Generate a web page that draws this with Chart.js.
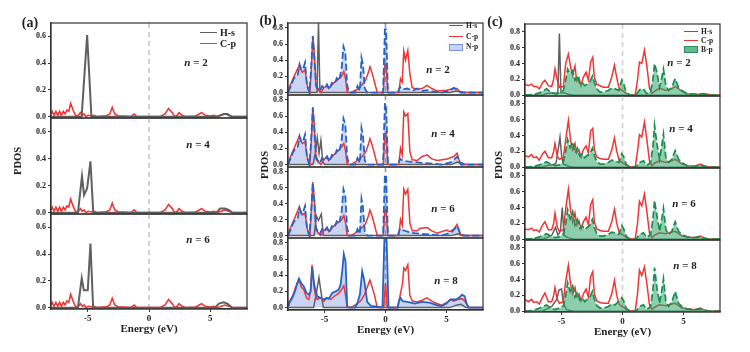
<!DOCTYPE html>
<html>
<head>
<meta charset="utf-8">
<script src="https://cdn.jsdelivr.net/npm/chart.js@4.4.0/dist/chart.umd.min.js"></script>
<style>
body { margin: 0; background: #fff; }
#fig { position: relative; width: 750px; height: 352px; overflow: hidden;
       font-family: "Liberation Serif", "Times New Roman", serif; font-weight: bold; color: #222; }
#fig canvas { position: absolute; }
.txt { position: absolute; white-space: nowrap; line-height: 1; transform: translate(-50%, -50%); }
.leg { position: absolute; white-space: nowrap; line-height: 1; }
</style>
</head>
<body>
<div id="fig"></div>
<script>
// tick labels
var xTicks = [-5, 0, 5];
var aTicksY = [0, 0.2, 0.4, 0.6];
var bTicksY = [0, 0.2, 0.4, 0.6, 0.8];
var cTicksY = [0, 0.2, 0.4, 0.6, 0.8];

// ---- panel (a): H-s / C-p, n = 2, 4, 6  ([energy eV, PDOS])
var aHs2 = [[-8,0],[-5.5,0],[-5.05,0.61],[-4.7,0],[5.5,0],[5.8,0.01],[6.1,0.02],[6.4,0.02],[6.7,0],[8,0]];
var aHs4 = [[-8,0],[-5.8,0],[-5.47,0.27],[-5.3,0.13],[-5.05,0.18],[-4.78,0.38],[-4.55,0],[5.5,0],[5.8,0.03],[6.2,0.03],[6.5,0.02],[6.8,0],[8,0]];
var aHs6 = [[-8,0],[-5.8,0],[-5.49,0.22],[-5.32,0.13],[-5.0,0.13],[-4.78,0.48],[-4.56,0],[5.4,0],[5.7,0.03],[6.1,0.04],[6.4,0.03],[6.8,0],[8,0]];
var aCp = [[-8,0.02],[-7.9,0.04],[-7.75,0.01],[-7.6,0.04],[-7.45,0.01],[-7.3,0.04],[-7.15,0.01],[-7.0,0.04],
    [-6.85,0.02],[-6.7,0.05],[-6.55,0.04],[-6.4,0.1],[-6.2,0.05],[-6.0,0.01],[-5.8,0.005],[-5.6,0.03],[-5.45,0.01],
    [-5.3,0.02],[-5.15,0],[-4.95,0.01],[-4.7,0.005],[-4.5,0.01],[-4.2,0],[-3.8,0.005],[-3.5,0.005],[-3.2,0.02],
    [-3.0,0.07],[-2.8,0.02],[-2.5,0.005],[-2.0,0.005],[-1.5,0],[-1.2,0.02],[-1.0,0],[0.9,0],[1.3,0.02],[1.6,0.06],
    [1.9,0.03],[2.1,0],[2.3,0.01],[2.45,0.03],[2.7,0.01],[3.0,0],[3.8,0.005],[4.1,0.02],[4.3,0.03],[4.6,0.01],
    [5.0,0.005],[5.3,0.01],[5.6,0],[5.9,0.01],[6.2,0.02],[6.5,0.01],[6.9,0],[8,0]];

// ---- panel (b): H-s / C-p / N-p, n = 2, 4, 6, 8
var bHs2 = [[-8,0],[-5.62,0],[-5.5,0.86],[-5.38,0],[5.3,0],[5.8,0.02],[6.2,0.01],[6.5,0],[8,0]];
var bCp2 = [[-8,0.02],[-7.85,0.08],[-7.5,0.2],[-7.1,0.33],[-6.83,0.25],[-6.6,0.28],[-6.4,0.07],[-6.2,0],[-6.07,0.35],
    [-5.96,0.7],[-5.82,0.44],[-5.7,0.07],[-5.5,0.03],[-5.3,0],[-5.06,0.06],[-4.8,0.08],[-4.65,0.05],[-4.24,0.12],
    [-3.83,0.17],[-3.6,0.2],[-3.42,0.26],[-3.28,0.17],[-3.14,0],[-2.9,0],[-2.6,0.02],[-2.32,0.04],[-1.91,0.1],
    [-1.64,0.15],[-1.4,0.25],[-1.28,0.32],[-1.09,0.24],[-0.9,0.13],[-0.68,0],[-0.19,0],[-0.05,0.35],[0.05,0.35],
    [0.19,0],[1.09,0],[1.23,0.17],[1.37,0.13],[1.5,0.51],[1.64,0.4],[1.83,0.52],[2.0,0.23],[2.19,0.06],[2.6,0.04],
    [3.0,0.05],[3.41,0.09],[3.8,0.05],[4.24,0.02],[5.05,0.03],[5.6,0.05],[5.87,0.05],[6.15,0],[8,0]];
var bNp2 = [[-8,0],[-7.85,0.05],[-7.6,0.15],[-7.4,0.2],[-7.2,0.22],[-7.05,0.35],[-6.9,0.28],[-6.75,0.3],[-6.6,0.37],
    [-6.45,0.1],[-6.25,0],[-6.1,0.3],[-5.97,0.7],[-5.85,0.45],[-5.7,0.1],[-5.55,0.05],[-5.4,0.02],[-5.2,0.08],
    [-5.0,0.05],[-4.8,0.1],[-4.6,0.04],[-4.4,0.12],[-4.2,0.1],[-4.0,0.18],[-3.8,0.15],[-3.6,0.3],[-3.45,0.57],
    [-3.3,0.5],[-3.15,0.1],[-3.0,0],[-2.5,0],[-2.3,0.08],[-2.1,0.02],[-1.97,0.43],[-1.85,0.35],[-1.7,0.05],[-1.5,0],
    [-0.2,0],[-0.05,0.78],[0.05,0.78],[0.2,0],[1.0,0],[1.2,0.07],[1.4,0.04],[1.8,0.05],[2.2,0.02],[2.6,0.05],
    [3.0,0.02],[3.4,0.03],[4.0,0.01],[4.6,0],[5.2,0.02],[5.6,0.06],[5.9,0.03],[6.2,0],[8,0]];
var bHs4 = [[-8,0],[-5.95,0],[-5.75,0.15],[-5.6,0.33],[-5.45,0.14],[-5.3,0.3],[-5.15,0.04],[-5.0,0],[5.4,0],[5.9,0.03],[6.3,0.02],[6.6,0],[8,0]];
var bCp4 = [[-8,0.02],[-7.85,0.08],[-7.5,0.2],[-7.1,0.34],[-6.83,0.26],[-6.6,0.28],[-6.4,0.07],[-6.2,0],[-6.07,0.35],
    [-5.96,0.71],[-5.82,0.44],[-5.7,0.07],[-5.5,0.03],[-5.3,0],[-5.06,0.06],[-4.8,0.1],[-4.65,0.05],[-4.24,0.12],
    [-3.83,0.18],[-3.6,0.22],[-3.42,0.26],[-3.28,0.17],[-3.14,0],[-2.9,0],[-2.6,0.02],[-2.32,0.05],[-1.91,0.1],
    [-1.64,0.15],[-1.4,0.25],[-1.28,0.32],[-1.09,0.24],[-0.9,0.13],[-0.68,0],[-0.19,0],[-0.05,0.38],[0.05,0.38],
    [0.19,0],[1.09,0],[1.23,0.2],[1.37,0.12],[1.5,0.65],[1.64,0.6],[1.83,0.63],[2.0,0.16],[2.19,0.06],[2.6,0.05],
    [3.0,0.1],[3.41,0.12],[3.8,0.07],[4.24,0.05],[5.05,0.07],[5.6,0.1],[5.87,0.14],[6.15,0],[8,0]];
var bNp4 = [[-8,0],[-7.85,0.05],[-7.6,0.15],[-7.4,0.2],[-7.2,0.22],[-7.05,0.35],[-6.9,0.28],[-6.75,0.3],[-6.6,0.37],
    [-6.45,0.1],[-6.25,0],[-6.1,0.3],[-5.97,0.7],[-5.85,0.45],[-5.7,0.1],[-5.55,0.05],[-5.4,0.02],[-5.2,0.08],
    [-5.0,0.05],[-4.8,0.1],[-4.6,0.04],[-4.4,0.12],[-4.2,0.1],[-4.0,0.18],[-3.8,0.15],[-3.6,0.3],[-3.45,0.57],
    [-3.3,0.5],[-3.15,0.1],[-3.0,0],[-2.5,0],[-2.3,0.08],[-2.1,0.02],[-1.97,0.45],[-1.85,0.36],[-1.7,0.05],[-1.5,0],
    [-0.2,0],[-0.05,0.75],[0.05,0.75],[0.2,0],[1.0,0],[1.2,0.07],[1.4,0.05],[1.8,0.04],[2.4,0.03],[3.0,0.02],
    [4.0,0.01],[4.6,0],[5.4,0.03],[5.9,0.1],[6.2,0],[8,0]];
var bHs6 = [[-8,0],[-5.85,0],[-5.68,0.25],[-5.5,0.19],[-5.27,0.27],[-5.1,0],[5.4,0],[5.9,0.02],[6.3,0.01],[6.6,0],[8,0]];
var bCp6 = [[-8,0.02],[-7.85,0.08],[-7.5,0.2],[-7.1,0.35],[-6.83,0.26],[-6.6,0.28],[-6.4,0.07],[-6.2,0],[-6.07,0.35],
    [-5.96,0.67],[-5.82,0.42],[-5.7,0.07],[-5.5,0.03],[-5.3,0],[-5.06,0.06],[-4.8,0.1],[-4.65,0.05],[-4.24,0.12],
    [-3.83,0.17],[-3.6,0.2],[-3.42,0.25],[-3.28,0.16],[-3.14,0],[-2.9,0],[-2.6,0.02],[-2.32,0.05],[-1.91,0.1],
    [-1.64,0.15],[-1.4,0.25],[-1.28,0.32],[-1.09,0.24],[-0.9,0.13],[-0.68,0],[-0.19,0],[-0.05,0.33],[0.05,0.33],
    [0.19,0],[1.09,0],[1.23,0.2],[1.37,0.13],[1.5,0.58],[1.64,0.52],[1.83,0.58],[2.0,0.16],[2.19,0.06],[2.6,0.06],
    [2.8,0.09],[3.41,0.1],[3.8,0.06],[4.24,0.03],[5.0,0.07],[5.3,0.05],[5.6,0.08],[5.87,0.14],[6.15,0],[8,0]];
var bNp6 = [[-8,0],[-7.85,0.05],[-7.6,0.15],[-7.4,0.2],[-7.2,0.22],[-7.05,0.35],[-6.9,0.28],[-6.75,0.3],[-6.6,0.37],
    [-6.45,0.1],[-6.25,0],[-6.1,0.3],[-5.97,0.66],[-5.85,0.45],[-5.7,0.1],[-5.55,0.05],[-5.4,0.02],[-5.2,0.08],
    [-5.0,0.05],[-4.8,0.1],[-4.6,0.04],[-4.4,0.12],[-4.2,0.1],[-4.0,0.18],[-3.8,0.15],[-3.6,0.3],[-3.45,0.58],
    [-3.3,0.5],[-3.15,0.1],[-3.0,0],[-2.5,0],[-2.3,0.08],[-2.1,0.02],[-1.97,0.46],[-1.85,0.36],[-1.7,0.05],[-1.5,0],
    [-0.2,0],[-0.05,0.76],[0.05,0.76],[0.2,0],[1.0,0],[1.2,0.09],[1.4,0.07],[1.8,0.05],[2.4,0.03],[3.0,0.02],
    [4.0,0.01],[4.6,0],[5.4,0.04],[5.9,0.12],[6.2,0],[8,0]];
var bHs8 = [[-8,0],[-5.9,0],[-5.65,0.2],[-5.46,0.37],[-5.3,0.2],[-5.1,0],[5.3,0],[5.8,0.03],[6.2,0.04],[6.6,0],[8,0]];
var bCp8 = [[-8,0.05],[-7.9,0.07],[-7.6,0.15],[-7.38,0.25],[-7.1,0.34],[-6.9,0.25],[-6.7,0.22],[-6.48,0.12],[-6.3,0.1],
    [-6.15,0.2],[-6.03,0.53],[-5.9,0.3],[-5.75,0.15],[-5.6,0.1],[-5.3,0.12],[-5.06,0.08],[-4.8,0.12],[-4.5,0.1],
    [-4.2,0.14],[-3.9,0.17],[-3.69,0.2],[-3.42,0.27],[-3.28,0.15],[-3.14,0],[-2.9,0],[-2.5,0.03],[-2.05,0.08],
    [-1.72,0.16],[-1.5,0.25],[-1.28,0.34],[-1.09,0.25],[-0.9,0.15],[-0.68,0],[-0.15,0],[0,0.3],[0.15,0],[1.0,0],
    [1.2,0.15],[1.4,0.3],[1.5,0.49],[1.64,0.46],[1.83,0.53],[2.0,0.15],[2.2,0.08],[2.6,0.07],[3.0,0.09],[3.4,0.12],
    [3.8,0.08],[4.2,0.05],[4.6,0.03],[5.0,0.06],[5.33,0.1],[5.6,0.08],[5.9,0.1],[6.28,0.11],[6.5,0.08],[6.83,0],[8,0]];
var bNp8 = [[-8,0.03],[-7.92,0.05],[-7.65,0.12],[-7.38,0.22],[-7.25,0.3],[-7.1,0.36],[-6.91,0.3],[-6.7,0.26],
    [-6.48,0.18],[-6.29,0.16],[-6.15,0.2],[-6.01,0.5],[-5.9,0.35],[-5.82,0.26],[-5.6,0.14],[-5.33,0.12],[-5.06,0.1],
    [-4.8,0.12],[-4.65,0.11],[-4.37,0.18],[-4.1,0.2],[-3.85,0.22],[-3.69,0.28],[-3.55,0.45],[-3.42,0.66],[-3.28,0.57],
    [-3.14,0.01],[-2.9,0],[-2.5,0],[-2.32,0.05],[-2.1,0.16],[-1.91,0.45],[-1.75,0.34],[-1.5,0.07],[-1.2,0.02],
    [-0.7,0.01],[-0.25,0],[-0.08,0.9],[0.08,0.9],[0.25,0],[1.0,0],[1.1,0.08],[1.23,0.12],[1.4,0.08],[1.8,0.07],
    [2.4,0.05],[3.0,0.07],[3.6,0.06],[4.2,0.03],[4.6,0.02],[5.0,0.05],[5.33,0.1],[5.8,0.1],[6.1,0.13],[6.28,0.16],
    [6.5,0.14],[6.65,0.05],[6.83,0],[8,0]];

// ---- panel (c): H-s / C-p / B-p, n = 2, 4, 6, 8
var cHs2 = [[-8,0],[-6.6,0],[-6.2,0.02],[-5.7,0.03],[-5.4,0.01],[-5.3,0.05],[-5.18,0.78],[-5.05,0.03],[-4.8,0.03],[-4.4,0.01],[-4,0],[8,0]];
var cCp2 = [[-8,0.14],[-7.73,0.12],[-7.46,0.14],[-7.3,0.11],[-7.05,0.11],[-6.83,0.08],[-6.55,0.16],[-6.36,0.19],
    [-6.09,0.12],[-5.81,0.11],[-5.65,0.2],[-5.54,0.33],[-5.35,0.19],[-5.18,0.1],[-4.85,0.11],[-4.66,0.4],[-4.44,0.52],
    [-4.25,0.35],[-4.09,0.25],[-3.9,0.37],[-3.76,0.18],[-3.57,0.22],[-3.4,0.12],[-3.21,0.23],[-2.99,0.29],[-2.8,0.19],
    [-2.61,0.42],[-2.44,0.48],[-2.31,0.23],[-2.11,0.14],[-1.84,0.12],[-1.57,0.1],[-1.16,0.1],[-0.88,0.23],[-0.66,0.38],
    [-0.47,0.22],[-0.28,0.09],[-0.06,0.06],[0.35,0.02],[0.76,0],[1.04,0],[1.23,0.19],[1.39,0.42],[1.58,0.4],[1.8,0.57],
    [1.99,0.38],[2.21,0.09],[2.41,0.02],[2.63,0.05],[3.04,0.09],[3.56,0.06],[4.05,0.08],[4.32,0.11],[4.6,0.08],
    [4.87,0.05],[5.28,0.02],[6.1,0.01],[6.65,0.02],[7.47,0],[8,0]];
var cBp2 = [[-8,0],[-7.3,0.01],[-6.8,0.03],[-6.23,0.08],[-5.9,0.04],[-5.54,0.02],[-5.18,0.03],[-4.85,0.06],[-4.66,0.19],
    [-4.5,0.33],[-4.3,0.27],[-4.09,0.31],[-3.9,0.19],[-3.7,0.25],[-3.5,0.14],[-3.3,0.16],[-3.1,0.12],[-2.9,0.14],
    [-2.7,0.16],[-2.47,0.24],[-2.31,0.16],[-2.11,0.08],[-1.84,0.04],[-1.57,0.04],[-1.16,0.06],[-0.88,0.09],[-0.6,0.08],
    [-0.3,0.06],[-0.06,0.19],[0.1,0.14],[0.3,0.04],[0.6,0],[1.1,0],[1.4,0.07],[1.72,0.08],[1.99,0.02],[2.3,0.05],
    [2.49,0.19],[2.63,0.4],[2.82,0.29],[3.04,0.1],[3.23,0.23],[3.36,0.33],[3.56,0.12],[3.78,0.06],[4.05,0.1],[4.32,0.21],
    [4.6,0.1],[4.87,0.06],[5.28,0.02],[6.1,0.01],[6.65,0.01],[7.2,0],[8,0]];
var cHs4 = [[-8,0],[-6.6,0],[-6.2,0.02],[-5.7,0.03],[-5.46,0.05],[-5.3,0.2],[-5.13,0.38],[-4.98,0.12],[-4.85,0.04],[-4.4,0.01],[-4,0],[8,0]];
var cCp4 = [[-8,0.15],[-7.73,0.13],[-7.46,0.16],[-7.3,0.12],[-7.05,0.13],[-6.83,0.09],[-6.55,0.17],[-6.36,0.2],
    [-6.09,0.12],[-5.81,0.12],[-5.65,0.2],[-5.54,0.3],[-5.35,0.14],[-5.18,0.1],[-4.85,0.12],[-4.66,0.35],[-4.44,0.59],
    [-4.25,0.33],[-4.09,0.22],[-3.9,0.3],[-3.76,0.18],[-3.57,0.22],[-3.4,0.13],[-3.21,0.22],[-2.99,0.27],[-2.8,0.18],
    [-2.61,0.46],[-2.44,0.49],[-2.31,0.22],[-2.11,0.13],[-1.84,0.11],[-1.57,0.1],[-1.16,0.1],[-0.88,0.22],[-0.66,0.37],
    [-0.47,0.2],[-0.28,0.09],[-0.06,0.06],[0.35,0.02],[0.76,0],[1.04,0],[1.23,0.2],[1.39,0.41],[1.58,0.38],[1.8,0.57],
    [1.99,0.36],[2.21,0.08],[2.41,0.02],[2.63,0.05],[3.04,0.08],[3.56,0.06],[4.05,0.08],[4.32,0.1],[4.6,0.07],
    [4.87,0.04],[5.28,0.02],[5.9,0.01],[6.4,0.04],[6.65,0.02],[7.2,0],[8,0]];
var cBp4 = [[-8,0],[-7.3,0.01],[-6.8,0.03],[-6.23,0.07],[-5.9,0.04],[-5.54,0.02],[-5.18,0.03],[-4.85,0.07],[-4.66,0.2],
    [-4.5,0.35],[-4.3,0.25],[-4.09,0.32],[-3.9,0.18],[-3.7,0.24],[-3.5,0.14],[-3.3,0.17],[-3.1,0.12],[-2.9,0.15],
    [-2.7,0.16],[-2.47,0.24],[-2.31,0.15],[-2.11,0.07],[-1.84,0.04],[-1.57,0.04],[-1.16,0.06],[-0.88,0.09],[-0.6,0.08],
    [-0.3,0.06],[-0.06,0.17],[0.1,0.13],[0.3,0.04],[0.6,0],[1.1,0],[1.4,0.06],[1.72,0.08],[1.99,0.02],[2.3,0.06],
    [2.49,0.25],[2.63,0.53],[2.82,0.3],[3.04,0.1],[3.23,0.28],[3.36,0.42],[3.56,0.12],[3.78,0.06],[4.05,0.1],[4.32,0.21],
    [4.6,0.1],[4.87,0.06],[5.28,0.02],[5.9,0.01],[6.4,0.03],[6.65,0.01],[7.2,0],[8,0]];
var cHs6 = [[-8,0],[-6.6,0],[-6.2,0.02],[-5.8,0.05],[-5.5,0.15],[-5.3,0.05],[-5.1,0.1],[-4.94,0.4],[-4.8,0.05],[-4.5,0.02],[-4,0],[8,0]];
var cCp6 = [[-8,0.13],[-7.73,0.12],[-7.46,0.14],[-7.3,0.11],[-7.05,0.12],[-6.83,0.09],[-6.55,0.18],[-6.36,0.22],
    [-6.09,0.12],[-5.81,0.12],[-5.65,0.2],[-5.54,0.33],[-5.35,0.15],[-5.18,0.1],[-4.85,0.12],[-4.66,0.38],[-4.44,0.63],
    [-4.25,0.35],[-4.09,0.22],[-3.9,0.33],[-3.76,0.18],[-3.57,0.23],[-3.4,0.13],[-3.21,0.22],[-2.99,0.28],[-2.8,0.18],
    [-2.61,0.44],[-2.44,0.5],[-2.31,0.22],[-2.11,0.13],[-1.84,0.11],[-1.57,0.1],[-1.16,0.1],[-0.88,0.22],[-0.66,0.38],
    [-0.47,0.2],[-0.28,0.09],[-0.06,0.06],[0.35,0.02],[0.76,0],[1.04,0],[1.23,0.2],[1.39,0.48],[1.58,0.42],[1.8,0.57],
    [1.99,0.36],[2.21,0.08],[2.41,0.02],[2.63,0.05],[3.04,0.08],[3.56,0.07],[4.05,0.09],[4.32,0.1],[4.6,0.07],
    [4.87,0.04],[5.28,0.03],[5.9,0.02],[6.4,0.04],[6.65,0.02],[7.2,0],[8,0]];
var cBp6 = [[-8,0],[-7.3,0.01],[-6.8,0.03],[-6.23,0.07],[-5.9,0.04],[-5.54,0.02],[-5.18,0.03],[-4.85,0.07],[-4.66,0.2],
    [-4.5,0.37],[-4.3,0.26],[-4.09,0.35],[-3.9,0.18],[-3.7,0.25],[-3.5,0.14],[-3.3,0.17],[-3.1,0.12],[-2.9,0.15],
    [-2.7,0.17],[-2.47,0.25],[-2.31,0.15],[-2.11,0.07],[-1.84,0.04],[-1.57,0.04],[-1.16,0.06],[-0.88,0.09],[-0.6,0.08],
    [-0.3,0.06],[-0.06,0.17],[0.1,0.13],[0.3,0.04],[0.6,0],[1.1,0],[1.4,0.06],[1.72,0.08],[1.99,0.02],[2.3,0.06],
    [2.49,0.24],[2.63,0.49],[2.82,0.3],[3.04,0.1],[3.23,0.26],[3.36,0.39],[3.56,0.12],[3.78,0.06],[4.05,0.1],[4.32,0.22],
    [4.6,0.1],[4.87,0.06],[5.28,0.03],[5.9,0.02],[6.4,0.03],[6.65,0.01],[7.2,0],[8,0]];
var cHs8 = [[-8,0],[-6.6,0],[-6.2,0.03],[-5.8,0.06],[-5.4,0.15],[-5.2,0.27],[-5.0,0.28],[-4.85,0.1],[-4.6,0.02],[-4,0],[8,0]];
var cCp8 = [[-8,0.15],[-7.73,0.12],[-7.46,0.15],[-7.3,0.11],[-7.05,0.12],[-6.83,0.09],[-6.55,0.18],[-6.36,0.23],
    [-6.09,0.12],[-5.81,0.12],[-5.65,0.2],[-5.54,0.3],[-5.35,0.15],[-5.18,0.1],[-4.85,0.12],[-4.66,0.38],[-4.44,0.58],
    [-4.25,0.33],[-4.09,0.22],[-3.9,0.3],[-3.76,0.18],[-3.57,0.22],[-3.4,0.13],[-3.21,0.22],[-2.99,0.28],[-2.8,0.18],
    [-2.61,0.44],[-2.44,0.5],[-2.31,0.22],[-2.11,0.13],[-1.84,0.11],[-1.57,0.1],[-1.16,0.1],[-0.88,0.22],[-0.66,0.39],
    [-0.47,0.2],[-0.28,0.09],[-0.06,0.06],[0.35,0.02],[0.76,0],[1.04,0],[1.23,0.22],[1.39,0.52],[1.58,0.45],[1.8,0.56],
    [1.99,0.36],[2.21,0.08],[2.41,0.02],[2.63,0.05],[3.04,0.08],[3.56,0.07],[4.05,0.09],[4.32,0.1],[4.6,0.07],
    [4.87,0.04],[5.28,0.03],[5.9,0.02],[6.4,0.04],[6.65,0.02],[7.2,0],[8,0]];
var cBp8 = [[-8,0],[-7.3,0.01],[-6.8,0.04],[-6.23,0.08],[-5.9,0.04],[-5.54,0.02],[-5.18,0.04],[-4.85,0.07],[-4.66,0.2],
    [-4.5,0.36],[-4.3,0.25],[-4.09,0.32],[-3.9,0.18],[-3.7,0.24],[-3.5,0.14],[-3.3,0.17],[-3.1,0.12],[-2.9,0.15],
    [-2.7,0.17],[-2.47,0.25],[-2.31,0.15],[-2.11,0.07],[-1.84,0.04],[-1.57,0.04],[-1.16,0.06],[-0.88,0.09],[-0.6,0.08],
    [-0.3,0.13],[-0.06,0.17],[0.1,0.13],[0.3,0.04],[0.6,0],[1.1,0],[1.4,0.06],[1.72,0.08],[1.99,0.02],[2.3,0.06],
    [2.49,0.26],[2.63,0.55],[2.82,0.3],[3.04,0.1],[3.23,0.27],[3.36,0.41],[3.56,0.12],[3.78,0.06],[4.05,0.12],[4.32,0.25],
    [4.6,0.1],[4.87,0.06],[5.28,0.03],[5.9,0.02],[6.4,0.03],[6.65,0.01],[7.2,0],[8,0]];

Chart.defaults.font.family = '"Liberation Serif", "Times New Roman", serif';
Chart.defaults.font.weight = 'bold';
Chart.defaults.color = '#222';

var RED = '#ef3535', GRAY = '#606060', BLUE = '#2563c8', GREEN = '#1b8c4e';

// box around each subplot + dashed line at the Fermi level
Chart.register({
    id: 'frame',
    beforeDatasetsDraw: function (chart, args, opts) {
        var ctx = chart.ctx, a = chart.chartArea;
        var px = chart.scales.x.getPixelForValue(0);
        ctx.save();
        ctx.strokeStyle = opts.zeroColor || '#bbb';
        ctx.lineWidth = 1.6;
        ctx.setLineDash([5, 4]);
        ctx.beginPath(); ctx.moveTo(px, a.top); ctx.lineTo(px, a.bottom); ctx.stroke();
        ctx.restore();
    },
    afterDatasetsDraw: function (chart) {
        var ctx = chart.ctx, a = chart.chartArea;
        ctx.save();
        ctx.strokeStyle = '#333';
        ctx.lineWidth = 1.2;
        ctx.strokeRect(a.left, a.top, a.right - a.left, a.bottom - a.top);
        ctx.restore();
    }
});

function pts(arr) { return arr.map(function (p) { return { x: p[0], y: p[1] }; }); }
function line(arr, color, width, dash) {
    return { data: pts(arr), borderColor: color, borderWidth: width, borderDash: dash || [],
             pointRadius: 0, fill: false, tension: 0 };
}
function area(arr, color) {
    return { data: pts(arr), borderWidth: 0, borderColor: 'rgba(0,0,0,0)', backgroundColor: color,
             pointRadius: 0, fill: 'origin', tension: 0 };
}

var fig = document.getElementById('fig');
var YAX = 44;   // width kept for the y tick labels

function makeSub(p, i, datasets) {
    var n = p.subs.length;
    var T = Math.round(p.top + i * p.h), B = Math.round(p.top + (i + 1) * p.h);
    var last = (i === n - 1);
    var padTop = 8, padBot = last ? 4 : 8, xH = last ? 27 : 0;
    var cv = document.createElement('canvas');
    var w = (p.right - p.left) + YAX + 4;
    var h = padTop + (B - T) + xH + padBot;
    cv.width = w; cv.height = h;
    cv.style.left = (p.left - YAX) + 'px';
    cv.style.top = (T - padTop) + 'px';
    cv.style.width = w + 'px'; cv.style.height = h + 'px';
    fig.appendChild(cv);
    new Chart(cv.getContext('2d'), {
        type: 'line',
        data: { datasets: datasets },
        options: {
            responsive: false, animation: false, devicePixelRatio: 1,
            layout: { padding: { left: 0, right: 4, top: padTop, bottom: padBot } },
            plugins: { legend: { display: false }, tooltip: { enabled: false }, frame: { zeroColor: p.zero } },
            scales: {
                x: {
                    type: 'linear', min: -8, max: 8, display: last,
                    afterBuildTicks: function (s) { s.ticks = xTicks.map(function (v) { return { value: v }; }); },
                    afterFit: function (s) { s.height = xH; },
                    grid: { drawOnChartArea: false, tickLength: 3, color: '#333' },
                    border: { color: '#333', width: 1.2 },
                    ticks: { font: { size: 9, weight: 'bold' }, padding: 1, maxRotation: 0, autoSkip: false },
                    title: { display: true, text: 'Energy (eV)', font: { size: 11, weight: 'bold' }, padding: 0 }
                },
                y: {
                    min: p.ymin, max: p.ymax,
                    afterBuildTicks: function (s) { s.ticks = p.yTicks.map(function (v) { return { value: v }; }); },
                    afterFit: function (s) { s.width = YAX; },
                    grid: { drawOnChartArea: false, tickLength: 3, color: '#333' },
                    border: { color: '#333', width: 1.2 },
                    ticks: { font: { size: 8, weight: 'bold' }, padding: 2, autoSkip: false,
                             callback: function (v) { return Number(v).toFixed(1); } }
                }
            }
        }
    });
}

function addText(html, x, y, size, cls) {
    var d = document.createElement('div');
    d.className = cls || 'txt';
    d.style.left = x + 'px'; d.style.top = y + 'px'; d.style.fontSize = size + 'px';
    d.innerHTML = html;
    fig.appendChild(d);
    return d;
}

function addLegend(items, x, y, dy, lw, size) {
    items.forEach(function (it, k) {
        var yy = y + k * dy;
        var s = document.createElement('div');
        s.style.position = 'absolute';
        s.style.left = x + 'px';
        s.style.width = lw + 'px';
        if (it.box) {
            s.style.top = (yy - 3.5) + 'px'; s.style.height = '7px';
            s.style.background = it.box; s.style.border = '1px solid ' + it.color;
            s.style.boxSizing = 'border-box';
        } else {
            s.style.top = (yy - 1) + 'px'; s.style.height = '0px';
            s.style.borderTop = '1.8px solid ' + it.color;
        }
        fig.appendChild(s);
        var t = addText(it.label, x + lw + 3, yy, size, 'leg');
        t.style.transform = 'translate(0,-50%)';
    });
}

var panels = [
    { key: 'a', left: 51, right: 247, top: 23, h: 95.33, ymin: -0.01, ymax: 0.7, yTicks: aTicksY, zero: '#c4c4c4',
      subs: [[aHs2, aCp], [aHs4, aCp], [aHs6, aCp]] },
    { key: 'b', left: 288, right: 483, top: 23, h: 71.75, ymin: -0.03, ymax: 0.86, yTicks: bTicksY, zero: '#9a9a9a',
      subs: [[bHs2, bCp2, bNp2], [bHs4, bCp4, bNp4], [bHs6, bCp6, bNp6], [bHs8, bCp8, bNp8]] },
    { key: 'c', left: 525, right: 720, top: 24, h: 71.9, ymin: -0.01, ymax: 0.9, yTicks: cTicksY, zero: '#cfcfcf',
      subs: [[cHs2, cCp2, cBp2], [cHs4, cCp4, cBp4], [cHs6, cCp6, cBp6], [cHs8, cCp8, cBp8]] }
];

panels.forEach(function (p) {
    p.subs.forEach(function (s, i) {
        var ds;
        if (p.key === 'a') {
            ds = [line(s[0], GRAY, 2), line(s[1], RED, 1.6)];
        } else if (p.key === 'b') {
            var dash = (i === p.subs.length - 1) ? [] : [7, 3];
            ds = [line(s[2], BLUE, 1.8, dash), line(s[1], RED, 1.5), line(s[0], GRAY, 1.5),
                  area(s[2], 'rgba(115,145,225,0.38)')];
        } else {
            ds = [line(s[2], GREEN, 1.7, [7, 3]), area(s[2], 'rgba(45,165,105,0.55)'),
                  line(s[1], RED, 1.5), line(s[0], GRAY, 1.5)];
        }
        makeSub(p, i, ds);
    });
});

// panel letters, axis titles, n labels
addText('(a)', 30, 23, 14);
addText('(b)', 268, 21, 14);
addText('(c)', 495, 22, 14);
[[18, 161], [265, 165], [499, 165]].forEach(function (q) {
    var d = addText('PDOS', q[0], q[1], 10.5);
    d.style.transform = 'translate(-50%,-50%) rotate(-90deg)';
});
var nLabels = [
    ['2', 196, 62], ['4', 198, 144], ['6', 198, 239],
    ['2', 438, 69], ['4', 443, 133], ['6', 443, 208], ['8', 446, 280],
    ['2', 679, 62], ['4', 681, 128], ['6', 684, 203], ['8', 685, 265]
];
nLabels.forEach(function (q) { addText('<i>n</i> = ' + q[0], q[1], q[2], 11); });

// legends
addLegend([{ label: 'H-s', color: GRAY }, { label: 'C-p', color: RED }], 200, 32.5, 11, 17, 10);
addLegend([{ label: 'H-s', color: GRAY }, { label: 'C-p', color: RED },
           { label: 'N-p', color: '#7b96d6', box: '#c9d4f2' }], 449, 26, 10.5, 14, 7.5);
addLegend([{ label: 'H-s', color: GRAY }, { label: 'C-p', color: RED },
           { label: 'B-p', color: '#2e8b57', box: '#63bb8e' }], 684, 32, 8.8, 14, 7.5);
</script>
</body>
</html>
